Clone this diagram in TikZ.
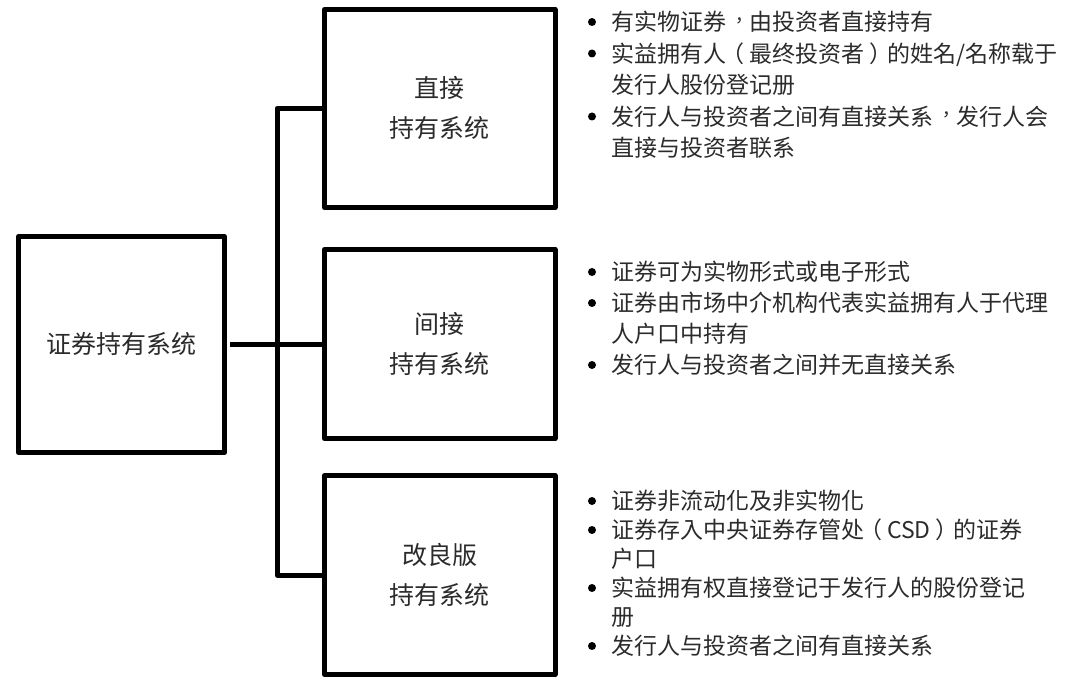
\documentclass[tikz,border=0pt]{standalone}
\usepackage{fontspec}
\usepackage{graphicx}
\newfontfamily\cjk{Noto Sans CJK TC}
\definecolor{txt}{HTML}{2B2B2B}
% full-width punctuation set in the centred (Traditional) position
\newcommand\zcomma{\makebox[1em][l]{\hspace{0.2em}\raisebox{0.15em}{\scalebox{0.8}{，}}}}
\newcommand\zlp{\makebox[1em][l]{\hspace{-0.22em}\makebox[0pt][l]{（}}}
\newcommand\zrp{\makebox[1em][l]{\hspace{0.22em}\makebox[0pt][l]{）}}}
\tikzset{
  box/.style={draw=black, line width=5pt, line join=round, inner sep=0pt, align=center, text=txt, font=\cjk\fontsize{25pt}{40pt}\selectfont},
  conn/.style={draw=black, line width=5pt, line join=round},
  ln/.style={anchor=base west, inner sep=0pt, text=txt, font=\cjk\fontsize{23pt}{31pt}\selectfont},
  bul/.style={fill=black}
}
\begin{document}
\begin{tikzpicture}[x=1pt,y=-1pt]
\useasboundingbox (0,0) rectangle (1080,687);
% boxes
\node[box, minimum width=206pt, minimum height=216pt] (root) at (121.5,344.5) {证券持有系统};
\node[box, minimum width=230.5pt, minimum height=198pt] (direct) at (439.75,108.5) {直接\\持有系统};
\node[box, minimum width=230.5pt, minimum height=189pt] (indirect) at (439.75,344) {间接\\持有系统};
\node[box, minimum width=230.5pt, minimum height=199pt] (improved) at (439.75,575) {改良版\\持有系统};
% connectors
\coordinate (trunk) at (277,0);
\draw[conn] (direct.west) -- (direct.west -| trunk) -- (improved.west -| trunk) -- (improved.west);
\draw[conn, shorten <=3pt] (root.east) -- (root.east -| indirect.west);
% block 1
\foreach \y in {22,53.5,116.5} \fill[bul] (592,\y) circle (4pt);
\node[ln] (a1) at (611,30.7) {有实物证券\zcomma 由投资者直接持有};
\node[ln] (a2) at (611,62.2) {实益拥有人\zlp 最终投资者\zrp 的姓名/名称载于};
\node[ln] (a3) at (611,93.7) {发行人股份登记册};
\node[ln] (a4) at (611,125.2) {发行人与投资者之间有直接关系\zcomma 发行人会};
\node[ln] (a5) at (611,156.7) {直接与投资者联系};
% block 2
\foreach \y in {272,303,365} \fill[bul] (592,\y) circle (4pt);
\node[ln] (b1) at (611,280.7) {证券可为实物形式或电子形式};
\node[ln] (b2) at (611,311.7) {证券由市场中介机构代表实益拥有人于代理};
\node[ln] (b3) at (611,342.7) {人户口中持有};
\node[ln] (b4) at (611,373.7) {发行人与投资者之间并无直接关系};
% block 3
\foreach \y in {501,530,588,646} \fill[bul] (592,\y) circle (4pt);
\node[ln] (c1) at (611,509.7) {证券非流动化及非实物化};
\node[ln] (c2) at (611,538.7) {证券存入中央证券存管处\zlp CSD\zrp 的证券};
\node[ln] (c3) at (611,567.7) {户口};
\node[ln] (c4) at (611,596.7) {实益拥有权直接登记于发行人的股份登记};
\node[ln] (c5) at (611,625.7) {册};
\node[ln] (c6) at (611,654.7) {发行人与投资者之间有直接关系};
\end{tikzpicture}
\end{document}
